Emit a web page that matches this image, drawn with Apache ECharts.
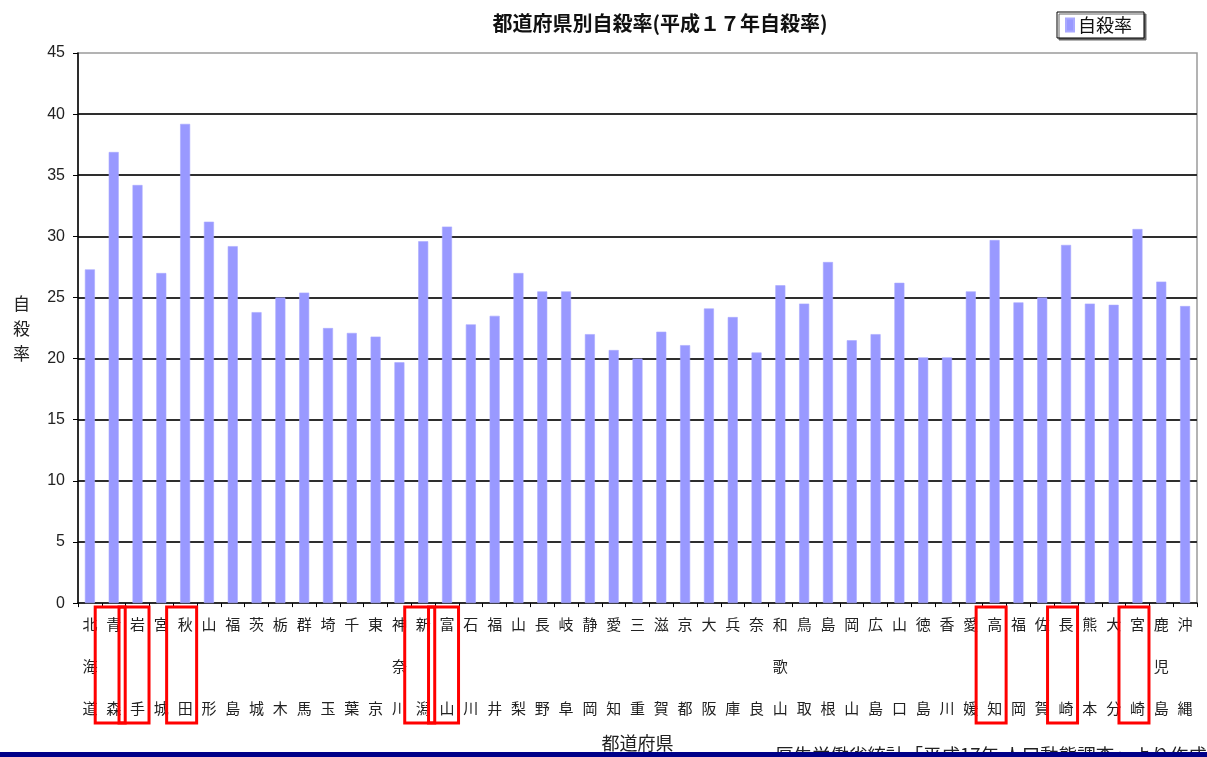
<!DOCTYPE html>
<html lang="ja">
<head>
<meta charset="utf-8">
<title>都道府県別自殺率</title>
<script src="https://cdn.jsdelivr.net/npm/echarts@6/dist/echarts.min.js"></script>
<style>
  html, body { margin: 0; padding: 0; background: #fff; }
  #chart { width: 1207px; height: 757px; }
</style>
</head>
<body>
<div id="chart"></div>
<script>
// 都道府県（北から南の順）
const prefectures = ['北海道','青森','岩手','宮城','秋田','山形','福島','茨城','栃木','群馬',
  '埼玉','千葉','東京','神奈川','新潟','富山','石川','福井','山梨','長野','岐阜','静岡','愛知',
  '三重','滋賀','京都','大阪','兵庫','奈良','和歌山','鳥取','島根','岡山','広島','山口','徳島',
  '香川','愛媛','高知','福岡','佐賀','長崎','熊本','大分','宮崎','鹿児島','沖縄'];

// 平成17年 自殺率（人口10万人あたり）
const suicideRates = [27.3,36.9,34.2,27.0,39.2,31.2,29.2,23.8,25.0,25.4,
  22.5,22.1,21.8,19.7,29.6,30.8,22.8,23.5,27.0,25.5,25.5,22.0,20.7,
  20.0,22.2,21.1,24.1,23.4,20.5,26.0,24.5,27.9,21.5,22.0,26.2,20.1,
  20.1,25.5,29.7,24.6,25.0,29.3,24.5,24.4,30.6,26.3,24.3];

// 赤枠で囲む県
const highlighted = ['青森','岩手','秋田','新潟','富山','高知','長崎','宮崎'];

// 目盛
const yTicks = { min: 0, max: 45, interval: 5 };

const chart = echarts.init(document.getElementById('chart'), null, { renderer: 'canvas' });

// 県名を縦書き3段（2文字の県は中段を空ける）
function verticalName(name) {
  const c = name.split('');
  return c.length === 3 ? c.join('\n') : c[0] + '\n\n' + c[c.length - 1];
}

const cjk = '"Noto Sans CJK JP", sans-serif';

chart.setOption({
  animation: false,
  backgroundColor: '#fff',
  title: {
    text: '都道府県別自殺率(平成１７年自殺率)',
    left: 655,
    top: 8,
    textAlign: 'center',
    textStyle: { fontFamily: cjk, fontSize: 20, fontWeight: 'bold', color: '#111' }
  },
  legend: {
    left: 1057,
    top: 12,
    padding: [4, 12, 4, 8],
    itemWidth: 8,
    itemHeight: 13,
    itemGap: 4,
    icon: 'rect',
    borderColor: '#000',
    borderWidth: 1,
    backgroundColor: '#fff',
    shadowColor: '#666',
    shadowOffsetX: 2,
    shadowOffsetY: 2,
    shadowBlur: 0,
    textStyle: { fontFamily: cjk, fontSize: 18, color: '#111', padding: [0, 0, 0, -1] },
    data: ['自殺率']
  },
  grid: {
    left: 78, right: 10, top: 53, bottom: 151,
    show: true, borderColor: '#9a9a9a', borderWidth: 1.5, backgroundColor: '#fff'
  },
  xAxis: {
    type: 'category',
    data: prefectures,
    name: '都道府県',
    nameLocation: 'middle',
    nameGap: 124,
    nameTextStyle: { fontFamily: cjk, fontSize: 18, color: '#222' },
    axisLine: { lineStyle: { color: '#000', width: 1.5 } },
    axisTick: { show: true, length: 4, lineStyle: { color: '#000' } },
    axisLabel: {
      interval: 0,
      margin: 0,
      fontFamily: cjk,
      fontSize: 15,
      lineHeight: 42,
      color: '#222',
      formatter: verticalName
    }
  },
  yAxis: {
    type: 'value',
    min: yTicks.min,
    max: yTicks.max,
    interval: yTicks.interval,
    name: '自\n殺\n率',
    nameLocation: 'middle',
    nameRotate: 0,
    nameGap: 48,
    nameTextStyle: { fontFamily: cjk, fontSize: 17, lineHeight: 25, color: '#222' },
    axisLine: { show: true, lineStyle: { color: '#000', width: 1.5 } },
    axisTick: { show: true, length: 5, lineStyle: { color: '#000' } },
    axisLabel: { margin: 13, fontFamily: '"Liberation Sans", Arial, sans-serif', fontSize: 16, color: '#222' },
    splitLine: {
      show: true,
      showMinLine: false,
      showMaxLine: false,
      lineStyle: { color: '#2e2e2e', width: 2 }
    }
  },
  series: [{
    name: '自殺率',
    type: 'bar',
    data: suicideRates,
    barWidth: 10,
    itemStyle: { color: '#9999ff', borderColor: '#aaaaff', borderWidth: 0.6 }
  }]
});

// 赤枠・出典・下端の帯
function drawOverlay() {
  const y0 = chart.convertToPixel({ yAxisIndex: 0 }, 0);
  const boxes = highlighted.map(function (name) {
    const cx = chart.convertToPixel({ xAxisIndex: 0 }, name);
    return {
      type: 'rect',
      shape: { x: cx - 18.5, y: y0 + 4, width: 30, height: 116 },
      style: { fill: 'none', stroke: '#ff0000', lineWidth: 3 },
      z: 100
    };
  });
  chart.setOption({
    graphic: boxes.concat([
      {
        type: 'text',
        left: 775,
        top: 746,
        style: {
          text: '厚生労働省統計「平成17年 人口動態調査」より作成',
          font: '18.5px "Noto Sans CJK JP", sans-serif',
          fill: '#222'
        },
        z: 100
      },
      {
        type: 'rect',
        left: 0,
        bottom: 0,
        shape: { width: 1207, height: 5 },
        style: { fill: '#000088' },
        z: 101
      }
    ])
  });
}
drawOverlay();
</script>
</body>
</html>
